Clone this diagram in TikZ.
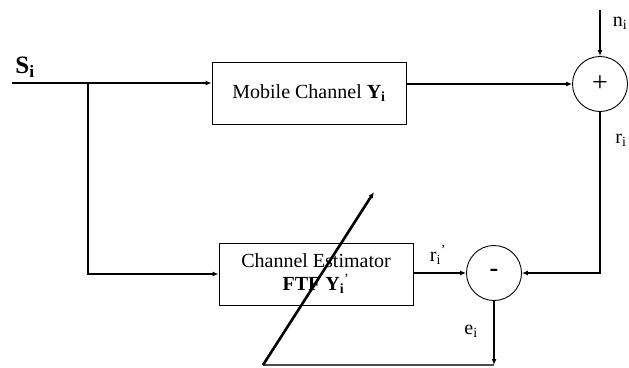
\documentclass[tikz,border=0pt]{standalone}
\usepackage{fontspec}
\setmainfont{Liberation Serif}
\usetikzlibrary{arrows.meta,positioning}

\begin{document}
\begin{tikzpicture}[x=1pt,y=-1pt,
		blockbox/.style={draw,line width=0.9pt,minimum width=194pt,minimum height=62pt,align=center,font=\fontsize{20}{23}\selectfont},
		sumnode/.style={draw,circle,line width=0.9pt,minimum size=55pt,inner sep=0pt},
		sig/.style={line width=2.6pt,-{Latex[length=6pt,width=5pt]}},
		lbl/.style={font=\fontsize{20}{22}\selectfont,inner sep=0pt}]
			\useasboundingbox (0,0) rectangle (629,367);
			\node[blockbox] (chan) at (309,93) {Mobile Channel \textbf{Y\textsubscript{i}}};
			\node[blockbox] (est) at (316,274) {Channel Estimator\\\textbf{FTF Y\textsubscript{i}}\textsuperscript{’}};
			\node[sumnode,font=\fontsize{28}{28}\selectfont] (add) at (600,84) {+};
			\node[sumnode,font=\fontsize{26}{26}\selectfont\bfseries] (sub) at (494,273) {-};
			\coordinate (src) at (12,83);
			\coordinate (br) at (88,83);
			\coordinate (ntop) at (600,10);
			\coordinate (eend) at (494,365);
			\coordinate (diag0) at (263,365);
			\coordinate (diag1) at (374,192);
			\node[font=\fontsize{25}{26}\selectfont\bfseries,inner sep=0pt] (sname) at (25,67) {S\textsubscript{i}};
			\node[lbl] (nname) at (620,23) {n\textsubscript{i}};
			\node[lbl] (rname) at (621,140) {r\textsubscript{i}};
			\node[lbl] (rpname) at (438,255) {r\textsubscript{i}\textsuperscript{’}};
			\node[lbl] (ename) at (471,331) {e\textsubscript{i}};
			\draw[sig] (src) -- (src -| chan.west);
			\draw[sig] (br) |- (est.west);
			\draw[sig] (chan.east |- add) -- (add.west);
			\draw[sig] (ntop) -- (add.north);
			\draw[sig] (add.south) |- (sub.east);
			\draw[sig] (est.east |- sub) -- (sub.west);
			\draw[sig] (sub.south) -- (eend);
			\draw[line width=1.2pt,black!70] (diag0) -- (eend);
			\draw[sig] (diag0) -- (diag1);
		\end{tikzpicture}
\end{document}
